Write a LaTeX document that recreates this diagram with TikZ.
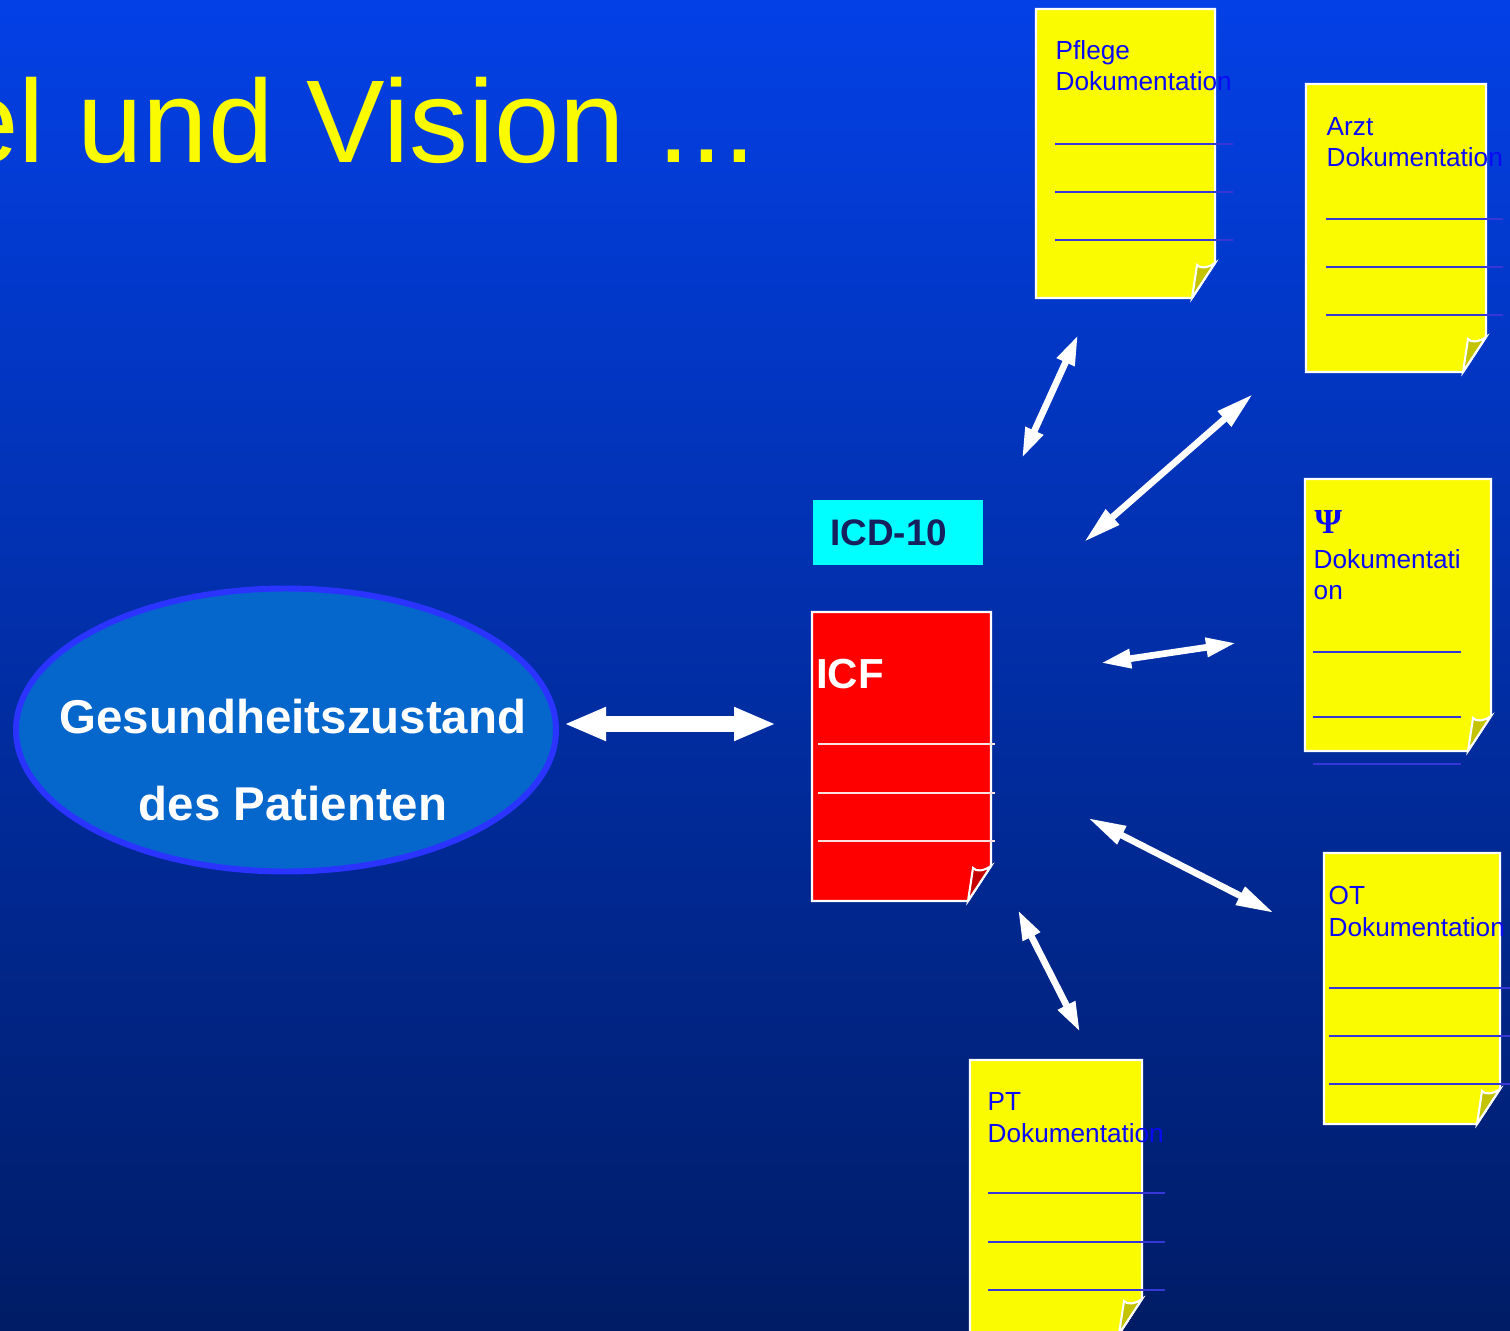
\documentclass[tikz,border=0pt]{standalone}
\usepackage{xcolor}
\usepackage{fontspec}
\setmainfont{Liberation Sans}
\newfontfamily\psifont{Liberation Serif}
\usepackage{tikz}
\usetikzlibrary{arrows.meta}
\usetikzlibrary{shapes.geometric}
\definecolor{bgtop}{RGB}{3, 64, 230}
\definecolor{bgbottom}{RGB}{0, 28, 102}
\definecolor{docyellow}{RGB}{250, 250, 0}
\definecolor{docblue}{RGB}{10, 10, 245}
\definecolor{lineblue}{RGB}{55, 55, 215}
\definecolor{statefill}{RGB}{5, 102, 204}
\definecolor{stateborder}{RGB}{42, 51, 255}
\definecolor{icdcyan}{RGB}{0, 255, 255}
\definecolor{icdnavy}{RGB}{22, 32, 92}
\tikzset{
title text/.style = { anchor = base west, inner sep = 0pt, text = docyellow, font = \fontsize{33.5}{40}\selectfont },
doc text/.style = { anchor = base west, inner sep = 0pt, align = left, text = docblue, font = \fontsize{7.45}{8.96}\selectfont },
doc line/.style = { draw = lineblue, line width = 0.6pt },
state/.style = { ellipse, draw = stateborder, fill = statefill, line width = 1.7pt, minimum width = 5.40cm, minimum height = 2.83cm, inner sep = 0pt },
state text/.style = { anchor = base, inner sep = 0pt, align = center, text = white, font = \bfseries\fontsize{13.5}{24.75}\selectfont },
icd box/.style = { rectangle, fill = icdcyan, anchor = west, minimum height = 0.65cm, text width = 1.35cm, inner xsep = 0.176cm, inner ysep = 0pt, text = icdnavy, font = \bfseries\fontsize{10.5}{12}\selectfont },
link/.style = { draw = white, line width = 1.9pt, {Triangle[length = 3mm, width = 1.8mm]}-{Triangle[length = 3mm, width = 1.8mm]} },
long link/.style = { link, {Triangle[length = 3.8mm, width = 1.9mm]}-{Triangle[length = 3.8mm, width = 1.9mm]} },
big link/.style = { draw = white, line width = 4.5pt, {Triangle[length = 4.2mm, width = 3.1mm]}-{Triangle[length = 4.2mm, width = 3.1mm]} },
}
\tikzset{
pics/doc/.style args={#1, #2, #3}{
        code = {
        \path[draw = white, line width = 0.6pt, fill = #3] (0, 0) -- (#1, 0) -- (#1, -#2 + 0.35) -- (#1 - 0.23, -#2) -- (0, -#2) -- cycle;
        \path[draw = white, line width = 0.6pt, fill = #3!78!black] (#1 - 0.23, -#2) -- (#1 - 0.18, -#2 + 0.33) .. controls (#1 - 0.15, -#2 + 0.29) and (#1 - 0.07, -#2 + 0.30) .. (#1, -#2 + 0.35) -- cycle;
        \coordinate (-nw) at (0, 0);
        }
    }
}
\begin{document}
\begin{tikzpicture}
    \useasboundingbox (0, 0) rectangle (15.1, 13.3);
    \clip (0, 0) rectangle (15.1, 13.3);
    \shade[top color = bgtop, bottom color = bgbottom] (0, 0) rectangle (15.1, 13.3);
    \node[title text] (title) at (-0.475, 11.67) {el und Vision ...};
    % patient (base = last line)
    \node[state] (zustand) at (2.86, 6.0) {};
    \node[state text] (zustandtxt) at (2.93, 5.10) {Gesundheitszustand\\des Patienten};
    % icd and icf
    \node[icd box] (icd) at (8.12, 7.975) {ICD-10};
    \draw pic (icf) at (8.12, 7.18) {doc = {1.79, 2.89, red}};
    \node[doc text, text = white, font = \bfseries\fontsize{11.95}{14}\selectfont] (icftxt) at (8.153, 6.42) {ICF};
    \foreach \y in {5.86, 5.37, 4.89} \draw[doc line, draw = white!88!red] (8.18, \y) -- (9.95, \y);
    % documentations
    \draw pic (pflege) at (10.36, 13.21) {doc = {1.79, 2.89, docyellow}};
    \node[doc text] (pflegetxt) at (10.55, 12.39) {Pflege\\Dokumentation};
    \foreach \y in {11.86, 11.38, 10.90} \draw[doc line] (10.55, \y) -- (12.33, \y);
    \draw pic (arzt) at (13.06, 12.46) {doc = {1.80, 2.88, docyellow}};
    \node[doc text] (arzttxt) at (13.26, 11.63) {Arzt\\Dokumentation};
    \foreach \y in {11.11, 10.63, 10.15} \draw[doc line] (13.26, \y) -- (15.03, \y);
    \draw pic (psy) at (13.05, 8.51) {doc = {1.86, 2.72, docyellow}};
    \node[doc text, font = \psifont\bfseries\fontsize{10}{12}\selectfont] (psysym) at (13.14, 7.96) {Ψ};
    \node[doc text] (psytxt) at (13.13, 7.30) {Dokumentati\\on};
    \foreach \y in {6.78, 6.13, 5.66} \draw[doc line] (13.13, \y) -- (14.61, \y);
    \draw pic (ot) at (13.24, 4.77) {doc = {1.76, 2.71, docyellow}};
    \node[doc text] (ottxt) at (13.28, 3.94) {OT\\Dokumentation};
    \foreach \y in {3.42, 2.94, 2.46} \draw[doc line] (13.29, \y) -- (15.12, \y);
    \draw pic (pt) at (9.70, 2.70) {doc = {1.72, 2.74, docyellow}};
    \node[doc text] (pttxt) at (9.87, 1.88) {PT\\Dokumentation};
    \foreach \y in {1.37, 0.88, 0.40} \draw[doc line] (9.88, \y) -- (11.65, \y);
    % arrows
    \coordinate (zustand a) at (5.64, 6.06);
    \coordinate (zustand b) at (7.76, 6.06);
    \coordinate (pflege a) at (10.22, 8.72);
    \coordinate (pflege b) at (10.78, 9.95);
    \coordinate (arzt a) at (10.84, 7.88);
    \coordinate (arzt b) at (12.53, 9.36);
    \coordinate (psy a) at (11.01, 6.67);
    \coordinate (psy b) at (12.36, 6.87);
    \coordinate (ot a) at (10.88, 5.12);
    \coordinate (ot b) at (12.74, 4.17);
    \coordinate (pt a) at (10.18, 4.20);
    \coordinate (pt b) at (10.80, 2.98);
    \draw[big link] (zustand a) -- (zustand b);
    \draw[link] (pflege a) -- (pflege b);
    \draw[long link] (arzt a) -- (arzt b);
    \draw[link] (psy a) -- (psy b);
    \draw[long link] (ot a) -- (ot b);
    \draw[link] (pt a) -- (pt b);
\end{tikzpicture}
\end{document}
